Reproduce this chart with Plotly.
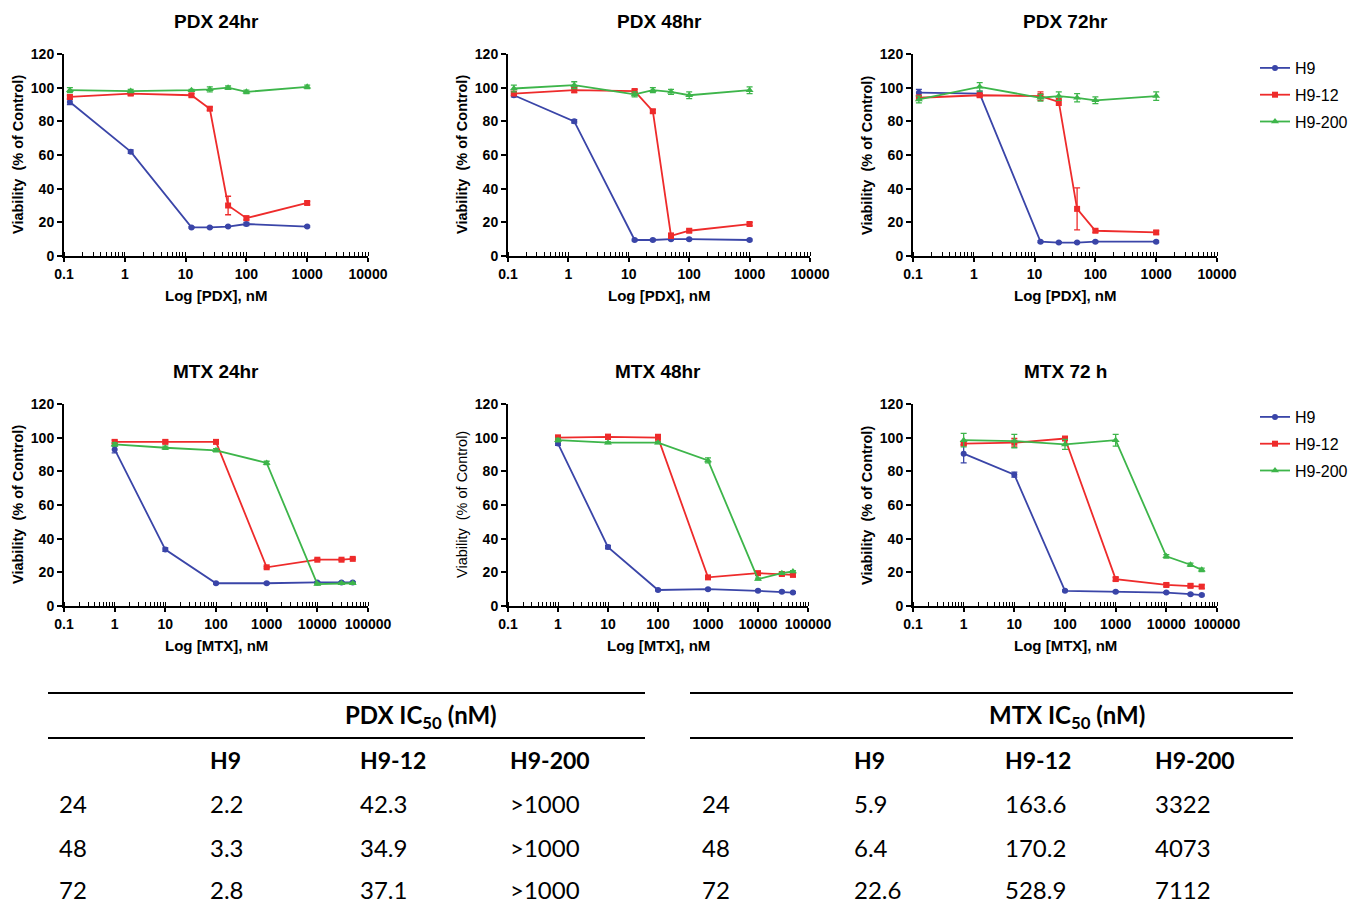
import plotly.graph_objects as go

# Figure fills the whole 1360x908 window (body margin removed in post_script).
OFF = 0
W, H = 1360 - 2 * OFF, 908 - 2 * OFF


def px(x):
    return (x - OFF) / W


def py(y):
    return 1 - (y - OFF) / H


# ---------------- data ----------------
series_names = ["H9", "H9-12", "H9-200"]
pdx_conc = [0.125, 1.25, 12.5, 25, 50, 100, 1000]
mtx_conc = [1, 10, 100, 1000, 10000, 30000, 50000]

pdx24_h9 = [91.5, 62, 17, 17, 17.5, 19, 17.5]
pdx24_h9_err = [1.5, 1, 0.5, 0.5, 0.5, 1, 0.5]
pdx24_h912 = [94.5, 96.5, 95.5, 87.5, 30, 22.5, 31.5]
pdx24_h912_err = [1, 1, 1, 1, 5.5, 1, 1]
pdx24_h9200 = [98.5, 98, 98.5, 99, 100, 97.5, 100.5]
pdx24_h9200_err = [1.5, 1, 0.5, 1.5, 1, 1, 1]

pdx48_h9 = [95.5, 80, 9.5, 9.5, 10, 10, 9.5]
pdx48_h9_err = [1, 1, 0.5, 0.5, 0.5, 0.5, 0.5]
pdx48_h912 = [96.5, 98.5, 98, 86, 12, 15, 19]
pdx48_h912_err = [1, 1.5, 1, 1, 1.5, 1, 1]
pdx48_h9200 = [99.5, 101.5, 96, 98.5, 97.5, 95.5, 98.5]
pdx48_h9200_err = [2, 2, 1.5, 1.5, 1.5, 2, 2]

pdx72_h9 = [97, 96.5, 8.5, 8, 8, 8.5, 8.5]
pdx72_h9_err = [2, 1.5, 0.5, 0.5, 0.5, 0.5, 0.5]
pdx72_h912 = [94, 95.5, 95, 91.5, 28, 15, 14]
pdx72_h912_err = [1.5, 1, 2.5, 2, 12.5, 1, 1]
pdx72_h9200 = [93, 100.5, 94, 95, 94, 92.5, 95]
pdx72_h9200_err = [2, 2.5, 2, 2.5, 2.5, 2, 2.5]

mtx24_h9 = [93, 33.5, 13.5, 13.5, 14, 14, 14]
mtx24_h9_err = [2, 1, 0.5, 0.5, 0.5, 0.5, 0.5]
mtx24_h912 = [97.5, 97.5, 97.5, 23, 27.5, 27.5, 28]
mtx24_h912_err = [1, 1, 1, 0.5, 0.5, 0.5, 0.5]
mtx24_h9200 = [96, 94, 92.5, 85, 13, 13.5, 13.5]
mtx24_h9200_err = [1, 1, 1, 1, 0.5, 0.5, 0.5]

mtx48_h9 = [96.5, 35, 9.5, 10, 9, 8.5, 8]
mtx48_h9_err = [1, 1, 0.5, 0.5, 0.5, 0.5, 0.5]
mtx48_h912 = [100, 100.5, 100, 17, 19.5, 19, 18.5]
mtx48_h912_err = [1.5, 1.5, 2, 1, 1, 1, 1]
mtx48_h9200 = [98.5, 97, 97, 86.5, 16, 19.5, 20.5]
mtx48_h9200_err = [1, 0.5, 0.5, 1.5, 0.5, 0.5, 0.5]

mtx72_h9 = [90.5, 78, 9, 8.5, 8, 7, 6.5]
mtx72_h9_err = [5.5, 1.5, 0.5, 0.5, 0.5, 0.5, 0.5]
mtx72_h912 = [96.5, 97, 99.5, 16, 12.5, 12, 11.5]
mtx72_h912_err = [1, 2.5, 1, 1, 1, 1, 1]
mtx72_h9200 = [98.5, 98, 96, 98.5, 29.5, 24.5, 21.5]
mtx72_h9200_err = [4, 4, 3, 3.5, 1, 1, 1]

panel_titles = ["PDX 24hr", "PDX 48hr", "PDX 72hr", "MTX 24hr", "MTX 48hr", "MTX 72 h"]
x_titles = ["Log [PDX], nM"] * 3 + ["Log [MTX], nM"] * 3
y_title = "Viability  (% of Control)"
pdx_tickvals = [0.1, 1, 10, 100, 1000, 10000]
pdx_ticktext = ["0.1", "1", "10", "100", "1000", "10000"]
mtx_tickvals = [0.1, 1, 10, 100, 1000, 10000, 100000]
mtx_ticktext = ["0.1", "1", "10", "100", "1000", "10000", "100000"]
y_tickvals = [0, 20, 40, 60, 80, 100, 120]

table_times = ["24", "48", "72"]
pdx_ic50_h9 = ["2.2", "3.3", "2.8"]
pdx_ic50_h912 = ["42.3", "34.9", "37.1"]
pdx_ic50_h9200 = [">1000", ">1000", ">1000"]
mtx_ic50_h9 = ["5.9", "6.4", "22.6"]
mtx_ic50_h912 = ["163.6", "170.2", "528.9"]
mtx_ic50_h9200 = ["3322", "4073", "7112"]

# ---------------- styling ----------------
colors = ["#3a45a8", "#ee2b2b", "#3db54a"]
symbols = ["circle", "square", "triangle-up"]
msizes = [6, 6, 7]
FONT = "Liberation Sans, Arial, sans-serif"
TFONT = "Lato, Carlito, Calibri, sans-serif"

panels = [
    (pdx_conc, [(pdx24_h9, pdx24_h9_err), (pdx24_h912, pdx24_h912_err), (pdx24_h9200, pdx24_h9200_err)]),
    (pdx_conc, [(pdx48_h9, pdx48_h9_err), (pdx48_h912, pdx48_h912_err), (pdx48_h9200, pdx48_h9200_err)]),
    (pdx_conc, [(pdx72_h9, pdx72_h9_err), (pdx72_h912, pdx72_h912_err), (pdx72_h9200, pdx72_h9200_err)]),
    (mtx_conc, [(mtx24_h9, mtx24_h9_err), (mtx24_h912, mtx24_h912_err), (mtx24_h9200, mtx24_h9200_err)]),
    (mtx_conc, [(mtx48_h9, mtx48_h9_err), (mtx48_h912, mtx48_h912_err), (mtx48_h9200, mtx48_h9200_err)]),
    (mtx_conc, [(mtx72_h9, mtx72_h9_err), (mtx72_h912, mtx72_h912_err), (mtx72_h9200, mtx72_h9200_err)]),
]

# screen-pixel geometry of the plot areas (left, right, top, bottom)
px_boxes = [
    (64, 368, 54, 256), (508, 810, 54, 256), (913, 1217, 54, 256),
    (64, 368, 404, 606), (508, 808, 404, 606), (913, 1217, 404, 606),
]

fig = go.Figure()
layout = dict(
    template="none",
    width=W, height=H, margin=dict(l=0, r=0, t=0, b=0, pad=0, autoexpand=False),
    paper_bgcolor="white", plot_bgcolor="white",
    font=dict(family=FONT, color="black"),
    annotations=[], shapes=[],
)

for i, ((xs, sers), box) in enumerate(zip(panels, px_boxes)):
    n = i + 1
    xa = "x" if n == 1 else f"x{n}"
    ya = "y" if n == 1 else f"y{n}"
    l, r, t, b = box
    for j, (vals, errs) in enumerate(sers):
        show = n in (3, 6)
        fig.add_trace(go.Scatter(
            x=xs, y=vals, mode="lines+markers", name=series_names[j],
            xaxis=xa, yaxis=ya,
            line=dict(color=colors[j], width=1.8),
            marker=dict(color=colors[j], size=msizes[j], symbol=symbols[j], line=dict(width=0)),
            error_y=dict(type="data", array=errs, visible=True, color=colors[j], thickness=1.3, width=3),
            showlegend=show,
            legend="legend" if n == 3 else "legend2",
            legendgroup=f"g{n}_{j}",
        ))
    is_pdx = n <= 3
    layout["xaxis" if n == 1 else f"xaxis{n}"] = dict(
        type="log", range=[-1, 4] if is_pdx else [-1, 5],
        domain=[px(l), px(r)], anchor=ya, automargin=False,
        tickvals=pdx_tickvals if is_pdx else mtx_tickvals,
        ticktext=pdx_ticktext if is_pdx else mtx_ticktext,
        ticks="outside", ticklen=4, tickwidth=1.5, tickcolor="black",
        showline=True, linecolor="black", linewidth=2,
        showgrid=False, zeroline=False,
        tickfont=dict(family=FONT, size=14, weight="bold", color="black"),
        minor=dict(ticks="inside", ticklen=4, tickwidth=1.2, tickcolor="black", dtick="D1", showgrid=False),
    )
    layout["yaxis" if n == 1 else f"yaxis{n}"] = dict(
        range=[0, 120], domain=[py(b), py(t)], anchor=xa, automargin=False,
        tickvals=y_tickvals, ticks="outside", ticklen=5, tickwidth=1.5, tickcolor="black",
        showline=True, linecolor="black", linewidth=2,
        showgrid=False, zeroline=False,
        tickfont=dict(family=FONT, size=14, weight="bold", color="black"),
    )
    cx = (l + r) / 2
    layout["annotations"].append(dict(
        text=panel_titles[i], x=px(cx), y=py(t - 33), xref="paper", yref="paper",
        xanchor="center", yanchor="middle", showarrow=False,
        font=dict(family=FONT, size=19, weight="bold"),
    ))
    layout["annotations"].append(dict(
        text=x_titles[i], x=px(cx), y=py(b + 39), xref="paper", yref="paper",
        xanchor="center", yanchor="middle", showarrow=False,
        font=dict(family=FONT, size=15, weight="bold"),
    ))
    layout["annotations"].append(dict(
        text=y_title, x=px(l - 46), y=py((t + b) / 2), xref="paper", yref="paper",
        xanchor="center", yanchor="middle", showarrow=False, textangle=-90,
        font=dict(family=FONT, size=14.5, weight="normal" if n == 5 else "bold"),
    ))

leg_common = dict(
    xanchor="left", yanchor="top", bgcolor="rgba(0,0,0,0)",
    font=dict(family=FONT, size=16, color="black"), traceorder="grouped", tracegroupgap=3,
)
layout["legend"] = dict(x=px(1255), y=py(51), **leg_common)
layout["legend2"] = dict(x=px(1255), y=py(400), **leg_common)

# ---------------- tables ----------------
tables = [
    dict(x0=48, x1=645, title="PDX IC<sub>50</sub> (nM)", tcx=421, rowx=57, colx=[208, 358, 508],
         cols=[pdx_ic50_h9, pdx_ic50_h912, pdx_ic50_h9200]),
    dict(x0=690, x1=1293, title="MTX IC<sub>50</sub> (nM)", tcx=1067, rowx=700, colx=[852, 1003, 1153],
         cols=[mtx_ic50_h9, mtx_ic50_h912, mtx_ic50_h9200]),
]
line_y = [693, 738]
row_y = [803, 847, 889]
for tb in tables:
    for ly in line_y:
        layout["shapes"].append(dict(
            type="line", xref="paper", yref="paper",
            x0=px(tb["x0"]), x1=px(tb["x1"]), y0=py(ly), y1=py(ly),
            line=dict(color="black", width=2),
        ))
    layout["annotations"].append(dict(
        text=tb["title"], x=px(tb["tcx"]), y=py(716), xref="paper", yref="paper",
        xanchor="center", yanchor="middle", showarrow=False,
        font=dict(family=TFONT, size=24, weight="bold"),
    ))
    for k, name in enumerate(series_names):
        layout["annotations"].append(dict(
            text=name, x=px(tb["colx"][k]), y=py(760), xref="paper", yref="paper",
            xanchor="left", yanchor="middle", showarrow=False,
            font=dict(family=TFONT, size=23, weight="bold"),
        ))
    for rI, tlabel in enumerate(table_times):
        ry = row_y[rI]
        layout["annotations"].append(dict(
            text=tlabel, x=px(tb["rowx"]), y=py(ry), xref="paper", yref="paper",
            xanchor="left", yanchor="middle", showarrow=False,
            font=dict(family=TFONT, size=24),
        ))
        for k in range(3):
            layout["annotations"].append(dict(
                text=tb["cols"][k][rI], x=px(tb["colx"][k]), y=py(ry), xref="paper", yref="paper",
                xanchor="left", yanchor="middle", showarrow=False,
                font=dict(family=TFONT, size=24),
            ))

fig.update_layout(**layout)
fig.write_html(
    "out.html",
    config={"displayModeBar": False},
    post_script="document.body.style.margin='0';document.body.style.overflow='hidden';",
)
